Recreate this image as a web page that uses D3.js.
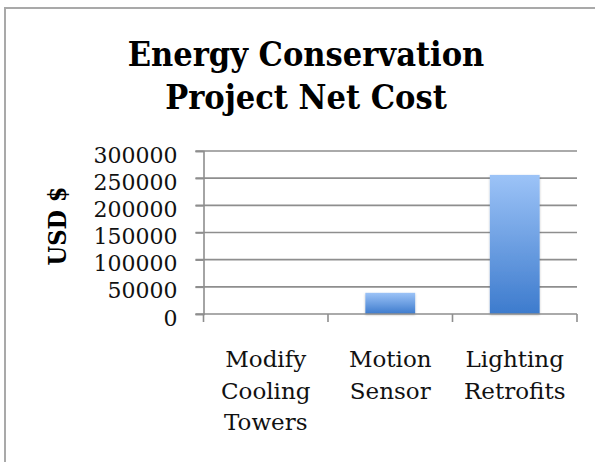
<!DOCTYPE html>
<html>
<head>
<meta charset="utf-8">
<script src="https://cdn.jsdelivr.net/npm/d3@7/dist/d3.min.js"></script>
<style>
  html, body { margin: 0; padding: 0; background: #fff; }
  svg { display: block; }
</style>
</head>
<body>
<svg id="chart" width="595" height="462"></svg>
<script>
// Net cost per energy conservation project (USD)
const categories = [
  ["Modify", "Cooling", "Towers"],
  ["Motion", "Sensor"],
  ["Lighting", "Retrofits"]
];
const costs = [0, 39000, 256000];
const yTicks = [0, 50000, 100000, 150000, 200000, 250000, 300000];
const titleLines = ["Energy Conservation", "Project Net Cost"];
const yTitle = "USD $";

const svg = d3.select("#chart");
const W = 595, H = 462;
const plot = { left: 203.5, right: 577, top: 151, bottom: 314 };
const serifNarrow = "'DejaVu Serif Condensed', 'DejaVu Serif', serif";
const serif = "'DejaVu Serif', serif";

// frame around the chart area
svg.append("path")
  .attr("d", `M5,${H} L5,8 L${W},8`)
  .attr("fill", "none")
  .attr("stroke", "#a9a9a9")
  .attr("stroke-width", 2);

// title
const title = svg.append("text")
  .attr("text-anchor", "middle")
  .attr("font-family", serifNarrow)
  .attr("font-weight", "bold")
  .attr("font-size", 34)
  .attr("fill", "#000");
titleLines.forEach((t, i) => {
  title.append("tspan").attr("x", 306).attr("y", 66 + i * 43).text(t);
});

const keys = categories.map(c => c.join(" "));
const x = d3.scaleBand().domain(keys).range([plot.left, plot.right]).padding(0);
const y = d3.scaleLinear().domain([0, 300000]).range([plot.bottom, plot.top]);

// horizontal gridlines
svg.append("g")
  .selectAll("line")
  .data(yTicks.filter(v => v > 0))
  .join("line")
  .attr("x1", plot.left - 8)
  .attr("x2", plot.right)
  .attr("y1", d => y(d))
  .attr("y2", d => y(d))
  .attr("stroke", "#8e8e8e")
  .attr("stroke-width", 1.6);

// y axis
const yAxis = svg.append("g")
  .attr("transform", `translate(${plot.left},0)`)
  .call(d3.axisLeft(y).tickValues(yTicks).tickFormat(d3.format("d")).tickSize(8).tickPadding(18));
yAxis.select(".domain").attr("stroke", "#8e8e8e").attr("stroke-width", 1.6);
yAxis.selectAll(".tick line").attr("stroke", "#8e8e8e").attr("stroke-width", 1.6);
yAxis.selectAll(".tick text")
  .attr("font-family", serif)
  .attr("font-size", 22)
  .attr("fill", "#111")
  .attr("dy", "0.5em");

// y axis title
svg.append("text")
  .attr("transform", `translate(66,226) rotate(-90)`)
  .attr("text-anchor", "middle")
  .attr("font-family", serifNarrow)
  .attr("font-weight", "bold")
  .attr("font-size", 25)
  .attr("fill", "#000")
  .text(yTitle);

// bar gradient
const defs = svg.append("defs");
const grad = defs.append("linearGradient")
  .attr("id", "barFill").attr("x1", 0).attr("y1", 0).attr("x2", 0).attr("y2", 1);
grad.append("stop").attr("offset", "0%").attr("stop-color", "#9cc3f7");
grad.append("stop").attr("offset", "100%").attr("stop-color", "#3d7bcd");

const shadow = defs.append("filter").attr("id", "barShadow")
  .attr("x", "-20%").attr("y", "-20%").attr("width", "140%").attr("height", "140%");
shadow.append("feDropShadow")
  .attr("dx", 0).attr("dy", 1).attr("stdDeviation", 1.2)
  .attr("flood-color", "#000").attr("flood-opacity", 0.25);

// bars
const barW = x.bandwidth() * 0.4;
svg.append("g")
  .selectAll("rect")
  .data(costs.map((v, i) => ({ key: keys[i], v })))
  .join("rect")
  .attr("x", d => x(d.key) + (x.bandwidth() - barW) / 2)
  .attr("width", barW)
  .attr("y", d => y(d.v))
  .attr("height", d => y(0) - y(d.v))
  .attr("fill", "url(#barFill)")
  .attr("filter", "url(#barShadow)");

// x axis baseline with category ticks
const xAxis = svg.append("g")
  .attr("transform", `translate(0,${plot.bottom})`);
xAxis.append("line")
  .attr("x1", plot.left - 8).attr("x2", plot.right)
  .attr("stroke", "#8e8e8e").attr("stroke-width", 1.6);
xAxis.selectAll("line.tick")
  .data([plot.left, ...keys.map(k => x(k) + x.bandwidth())])
  .join("line")
  .attr("class", "tick")
  .attr("x1", d => d).attr("x2", d => d)
  .attr("y1", 0).attr("y2", 8)
  .attr("stroke", "#8e8e8e").attr("stroke-width", 1.6);

// category labels
categories.forEach((lines, i) => {
  const t = svg.append("text")
    .attr("text-anchor", "middle")
    .attr("font-family", serif)
    .attr("font-size", 23)
    .attr("fill", "#111");
  lines.forEach((ln, j) => {
    t.append("tspan")
      .attr("x", x(keys[i]) + x.bandwidth() / 2)
      .attr("y", 367 + j * 31.5)
      .text(ln);
  });
});
</script>
</body>
</html>
